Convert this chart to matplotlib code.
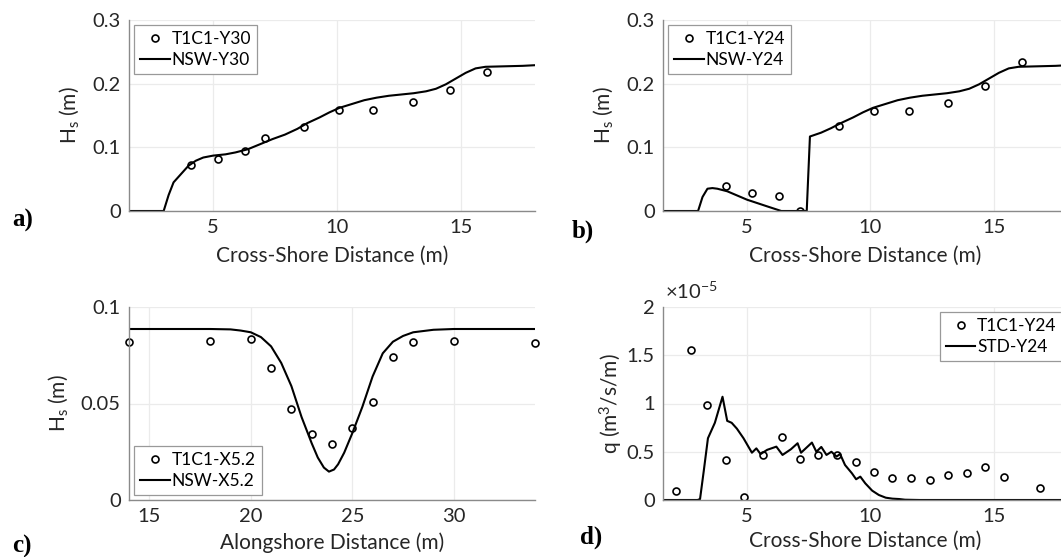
import matplotlib
matplotlib.use("Agg")
import matplotlib.pyplot as plt
from matplotlib.ticker import FuncFormatter

# ---------------------------------------------------------------------------
# Data
# ---------------------------------------------------------------------------
# a) wave height, cross-shore transect Y30
a_obs_x = [4.11, 5.19, 6.28, 7.10, 8.68, 10.10, 11.46, 13.07, 14.55, 16.05]
a_obs_y = [0.0715, 0.082, 0.0945, 0.114, 0.1315, 0.159, 0.158, 0.1707, 0.190, 0.218]
a_mod_x = [1.6, 3.0, 3.2, 3.4, 3.7, 4.0, 4.3, 4.6, 5.0, 5.5, 5.9, 6.4, 6.9, 7.4,
           7.9, 8.4, 8.8, 9.3, 9.7, 10.1, 10.6, 11.1, 11.6, 12.1, 12.6, 13.1,
           13.6, 14.0, 14.4, 14.8, 15.2, 15.6, 16.0, 16.5, 17.0, 17.5, 18.0]
a_mod_y = [0.0, 0.0, 0.025, 0.045, 0.058, 0.071, 0.079, 0.084, 0.087, 0.089,
           0.092, 0.097, 0.105, 0.113, 0.120, 0.129, 0.138, 0.147, 0.155, 0.162,
           0.168, 0.174, 0.178, 0.181, 0.183, 0.185, 0.188, 0.192, 0.199, 0.208,
           0.217, 0.224, 0.2265, 0.227, 0.2275, 0.228, 0.229]

# b) wave height, cross-shore transect Y24
b_obs_x = [4.15, 5.22, 6.31, 7.14, 8.74, 10.14, 11.55, 13.14, 14.64, 16.15]
b_obs_y = [0.0386, 0.0287, 0.023, 0.0, 0.134, 0.157, 0.157, 0.169, 0.196, 0.234]
b_mod_x = [1.6, 3.02, 3.2, 3.4, 3.6, 3.8, 4.2, 5.0, 5.8, 6.39, 7.42, 7.55, 8.0,
           8.4, 8.8, 9.3, 9.7, 10.1, 10.6, 11.1, 11.6, 12.1, 12.6, 13.1, 13.6,
           14.0, 14.4, 14.8, 15.2, 15.6, 16.0, 16.5, 17.0, 17.5, 18.0]
b_mod_y = [0.0, 0.0, 0.022, 0.035, 0.036, 0.035, 0.031, 0.0178, 0.0075, 0.0,
           0.0, 0.117, 0.123, 0.130, 0.138, 0.147, 0.155, 0.162, 0.168, 0.174,
           0.178, 0.181, 0.183, 0.185, 0.188, 0.192, 0.199, 0.208, 0.217, 0.224,
           0.2265, 0.227, 0.2275, 0.228, 0.229]

# c) wave height, alongshore transect X5.2
c_obs_x = [14, 18, 20, 21, 22, 23, 24, 25, 26, 27, 28, 30, 34]
c_obs_y = [0.082, 0.0824, 0.0834, 0.0682, 0.0472, 0.0341, 0.0292, 0.0375,
           0.051, 0.074, 0.0817, 0.0824, 0.0815]
c_mod_x = [14, 18, 19, 19.5, 20, 20.5, 21, 21.5, 22, 22.5, 23, 23.3, 23.6,
           23.85, 24.1, 24.3, 24.6, 25, 25.5, 26, 26.5, 27, 27.5, 28, 29, 30, 34]
c_mod_y = [0.0886, 0.0886, 0.0884, 0.0878, 0.0869, 0.0844, 0.0796, 0.071,
           0.059, 0.043, 0.0294, 0.022, 0.0168, 0.0147, 0.0158, 0.0185, 0.0245,
           0.0346, 0.0484, 0.064, 0.076, 0.082, 0.085, 0.0869, 0.0882, 0.0886,
           0.0886]

# d) sediment transport rate, cross-shore transect Y24 (units of 1e-5 m3/s/m)
d_obs_x = [2.12, 2.73, 3.38, 4.15, 4.89, 5.64, 6.40, 7.14, 7.89, 8.64, 9.40,
           10.15, 10.89, 11.64, 12.40, 13.15, 13.90, 14.64, 15.41, 16.88]
d_obs_q = [0.09, 1.557, 0.986, 0.415, 0.035, 0.464, 0.65, 0.422, 0.47, 0.467,
           0.398, 0.294, 0.228, 0.225, 0.204, 0.26, 0.277, 0.343, 0.235, 0.121]
d_mod_x = [1.6, 3.0, 3.1, 3.25, 3.42, 3.7, 4.01, 4.2, 4.38, 4.59, 4.86, 5.2,
           5.38, 5.55, 5.82, 6.19, 6.44, 6.78, 7.05, 7.19, 7.63, 7.81, 8.01,
           8.22, 8.42, 8.63, 8.77, 8.97, 9.25, 9.42, 9.59, 9.79, 10.07, 10.34,
           10.62, 10.89, 11.16, 11.4, 12.0, 18.0]
d_mod_q = [0.0, 0.0, 0.01, 0.3, 0.64, 0.80, 1.07, 0.82, 0.80, 0.74, 0.64, 0.49,
           0.535, 0.476, 0.52, 0.553, 0.467, 0.526, 0.588, 0.49, 0.595, 0.50,
           0.55, 0.467, 0.50, 0.45, 0.477, 0.363, 0.277, 0.215, 0.242, 0.173,
           0.097, 0.052, 0.024, 0.014, 0.010, 0.003, 0.0, 0.0]

# ---------------------------------------------------------------------------
# Style
# ---------------------------------------------------------------------------
FONT = "Lato"
TXT = "#262626"
SPINE = "#8a8a8a"
GRID = "#ebebeb"
TICK_FS = 14.5
LABEL_FS = 15

plt.rcParams.update({
    "font.family": FONT,
    "mathtext.fontset": "custom",
    "mathtext.rm": FONT,
    "mathtext.it": FONT + ":italic",
    "axes.edgecolor": SPINE,
    "xtick.color": TXT,
    "ytick.color": TXT,
    "axes.labelcolor": TXT,
})

fig = plt.figure(figsize=(10.61, 5.57), dpi=100)

W, H = 1061.0, 557.0
def place(left, top, right, bottom):
    return [left / W, 1 - bottom / H, (right - left) / W, (bottom - top) / H]

ax_a = fig.add_axes(place(129, 20, 535, 211))
ax_b = fig.add_axes(place(663, 20, 1068, 211))
ax_c = fig.add_axes(place(129, 307, 535, 500))
ax_d = fig.add_axes(place(663, 307, 1068, 500))


def style(ax, xlim, ylim, xticks, yticks):
    ax.set_xlim(*xlim)
    ax.set_ylim(*ylim)
    ax.set_xticks(xticks)
    ax.set_yticks(yticks)
    ax.yaxis.set_major_formatter(FuncFormatter(lambda v, p: f"{v:g}"))
    ax.grid(True, color=GRID, linewidth=0.9)
    ax.set_axisbelow(True)
    for s in ("top", "right"):
        ax.spines[s].set_visible(False)
    for s in ("left", "bottom"):
        ax.spines[s].set_linewidth(1.0)
    ax.tick_params(length=0, labelsize=TICK_FS, pad=6)


def add_legend(ax, loc):
    leg = ax.legend(loc=loc, fontsize=12.5, frameon=True, fancybox=False,
                    edgecolor="#999999", framealpha=1, handlelength=1.7,
                    handletextpad=0.1, borderpad=0.35, labelspacing=0.25,
                    borderaxespad=0.3)
    leg.get_frame().set_linewidth(0.9)
    return leg


mk = dict(ls="none", marker="o", mfc="none", mec="k", ms=5, mew=1.2)
ln = dict(color="k", lw=1.5)
HS = r"H$_{\mathregular{s}}$ (m)"

# a)
ax_a.plot(a_obs_x, a_obs_y, label="T1C1-Y30", **mk)
ax_a.plot(a_mod_x, a_mod_y, label="NSW-Y30", **ln)
style(ax_a, (1.6, 18), (0, 0.3), [5, 10, 15], [0, 0.1, 0.2, 0.3])
ax_a.set_ylabel(HS, fontsize=LABEL_FS, labelpad=8)
ax_a.set_xlabel("Cross-Shore Distance (m)", fontsize=LABEL_FS, labelpad=7)
add_legend(ax_a, "upper left")

# b)
ax_b.plot(b_obs_x, b_obs_y, label="T1C1-Y24", **mk)
ax_b.plot(b_mod_x, b_mod_y, label="NSW-Y24", **ln)
style(ax_b, (1.6, 18), (0, 0.3), [5, 10, 15], [0, 0.1, 0.2, 0.3])
ax_b.set_ylabel(HS, fontsize=LABEL_FS, labelpad=8)
ax_b.set_xlabel("Cross-Shore Distance (m)", fontsize=LABEL_FS, labelpad=7)
add_legend(ax_b, "upper left")

# c)
ax_c.plot(c_obs_x, c_obs_y, label="T1C1-X5.2", clip_on=False, **mk)
ax_c.plot(c_mod_x, c_mod_y, label="NSW-X5.2", **ln)
style(ax_c, (14, 34), (0, 0.1), [15, 20, 25, 30], [0, 0.05, 0.1])
ax_c.set_ylabel(HS, fontsize=LABEL_FS, labelpad=8)
ax_c.set_xlabel("Alongshore Distance (m)", fontsize=LABEL_FS, labelpad=5)
add_legend(ax_c, "lower left")

# d)
ax_d.plot(d_obs_x, d_obs_q, label="T1C1-Y24", **mk)
ax_d.plot(d_mod_x, d_mod_q, label="STD-Y24", **ln)
style(ax_d, (1.6, 18), (0, 2), [5, 10, 15], [0, 0.5, 1, 1.5, 2])
ax_d.set_ylabel(r"q (m$^{\mathregular{3}}$/s/m)", fontsize=LABEL_FS, labelpad=1)
ax_d.set_xlabel("Cross-Shore Distance (m)", fontsize=LABEL_FS, labelpad=4)
ax_d.text(0.005, 1.025, r"$\times$10$^{\mathregular{-5}}$", transform=ax_d.transAxes,
          ha="left", va="bottom", fontsize=14.5, color=TXT)
add_legend(ax_d, "upper right")

# panel letters
for (x, y, s) in [(12, 220, "a)"), (572, 231, "b)"), (12, 546, "c)"), (580, 537, "d)")]:
    fig.text(x / W, 1 - y / H, s, family="Liberation Serif", fontweight="bold",
             fontsize=18, ha="left", va="center", color="k")

fig.savefig("out.png", dpi=100)
